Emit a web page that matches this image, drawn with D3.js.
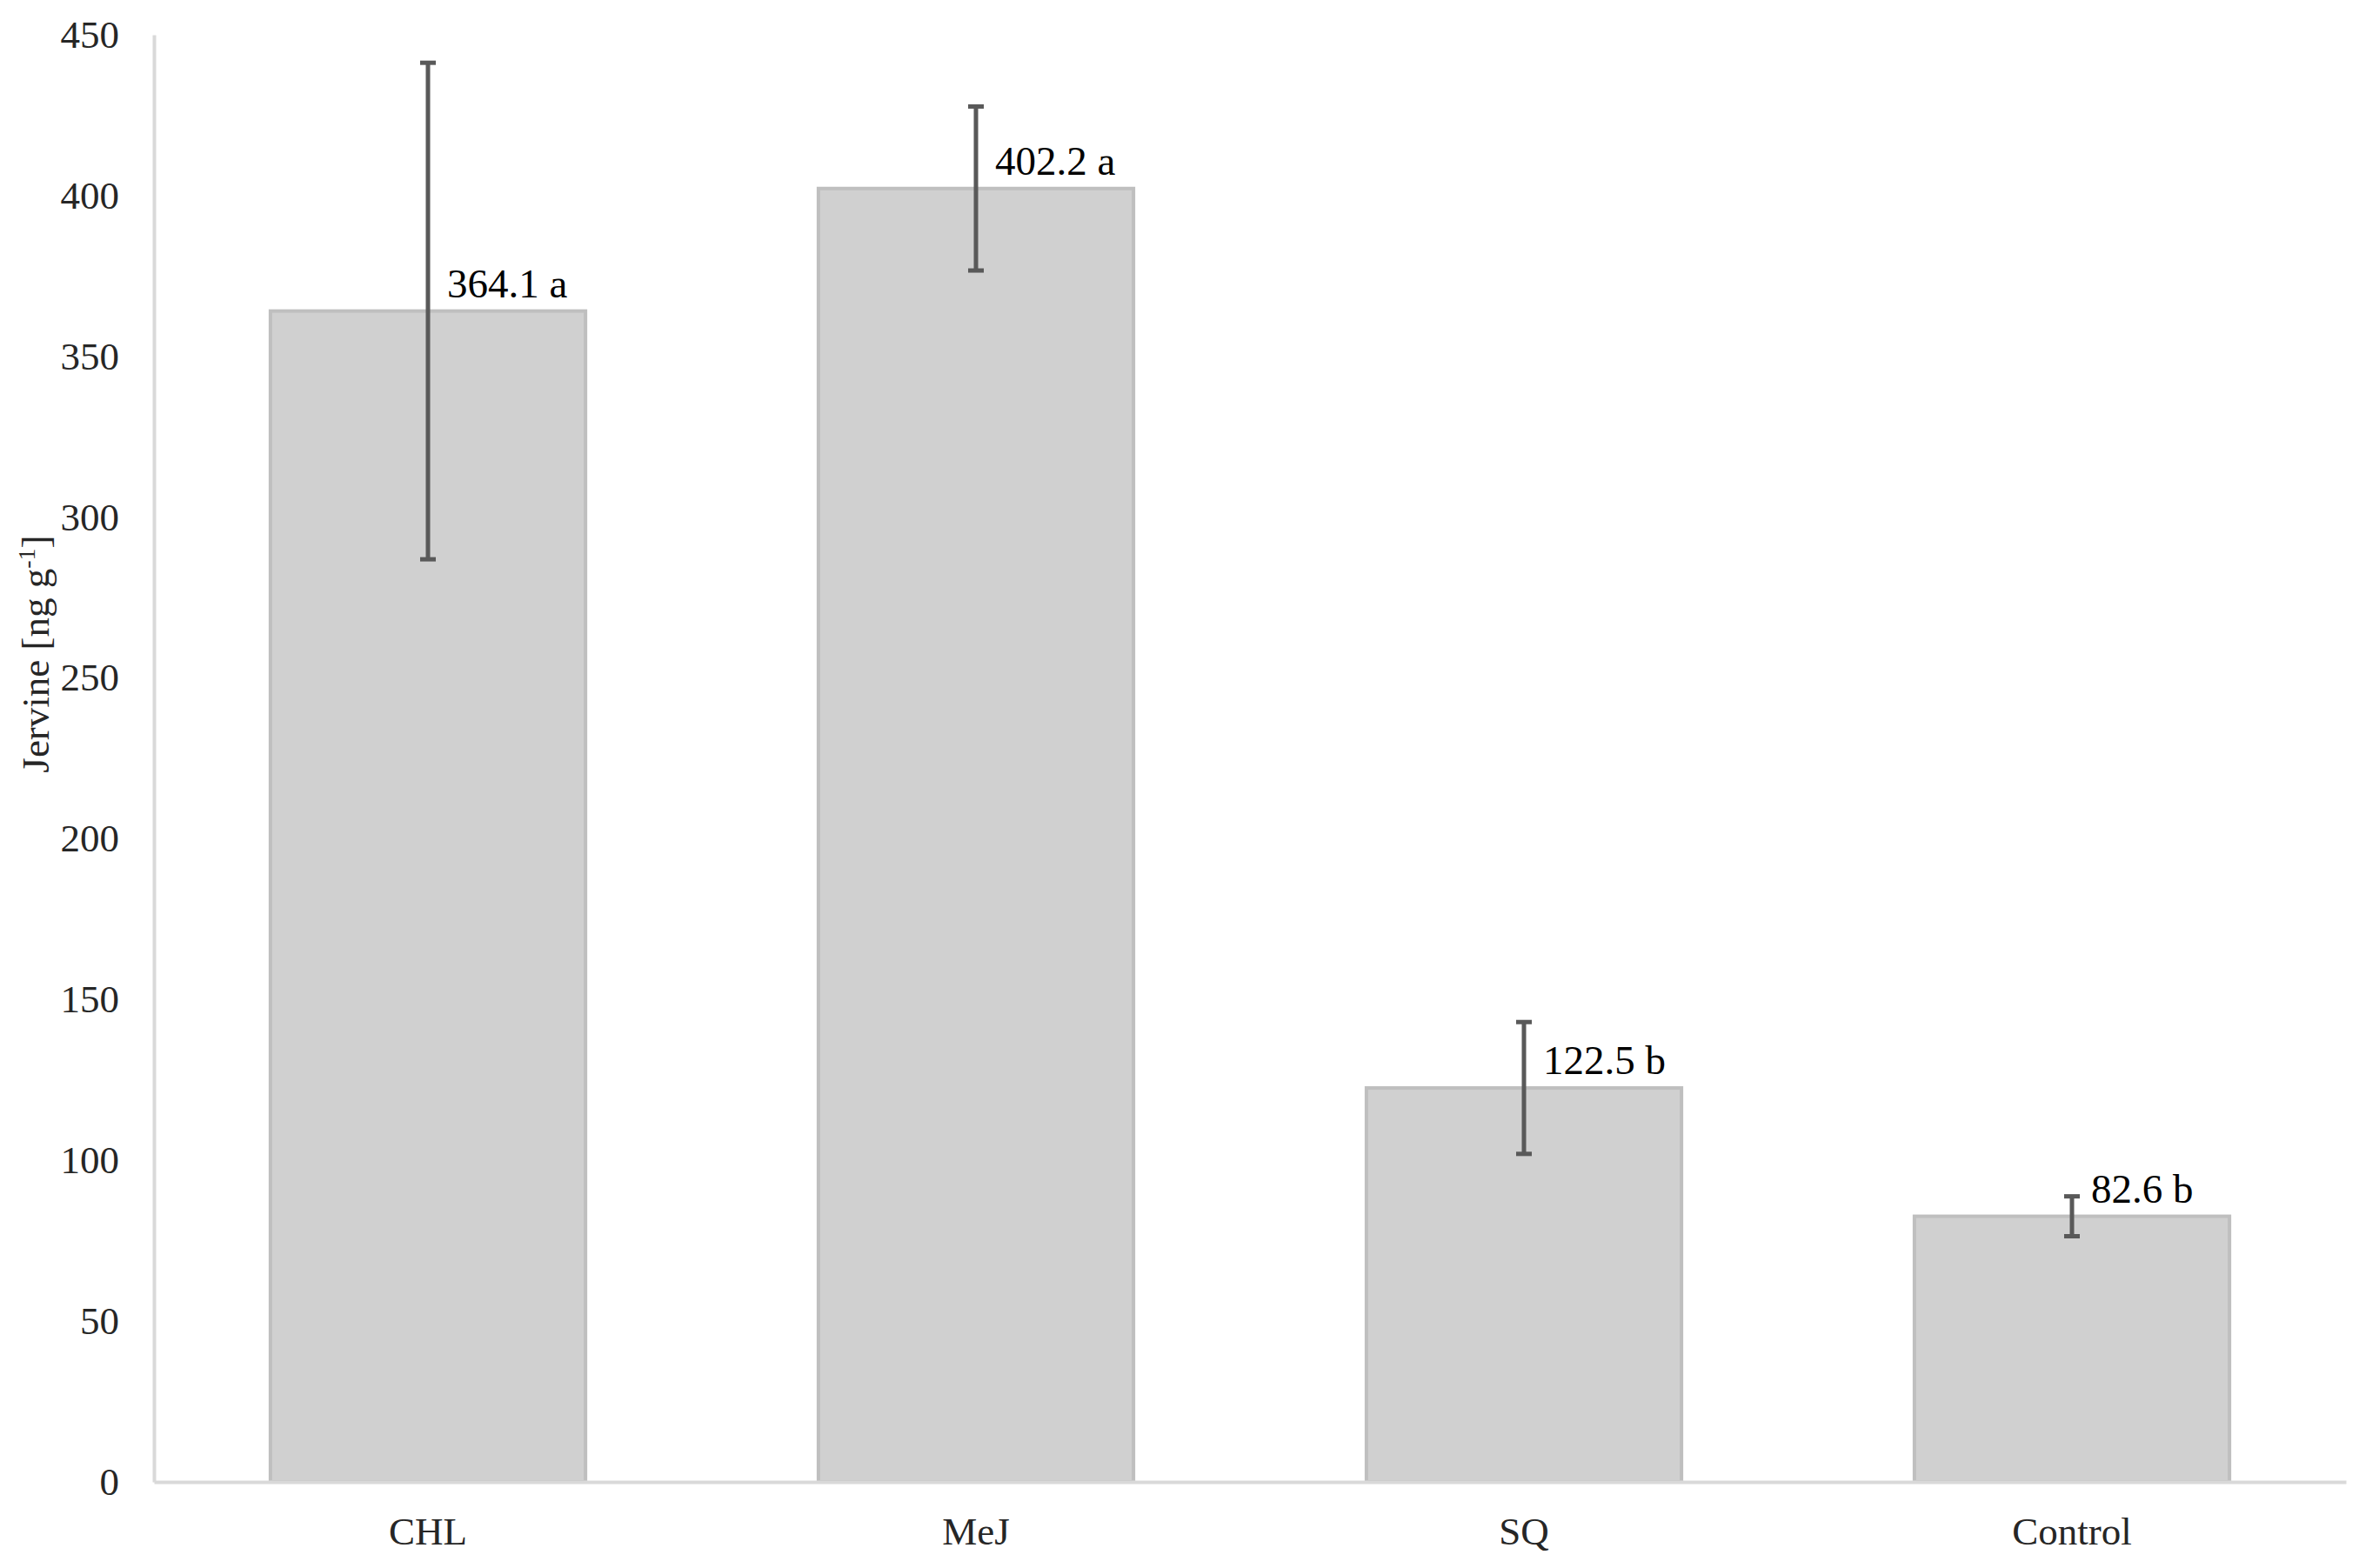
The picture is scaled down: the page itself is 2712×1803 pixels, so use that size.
<!DOCTYPE html>
<html>
<head>
<meta charset="utf-8">
<script src="https://cdn.jsdelivr.net/npm/d3@7"></script>
<style>
  html, body { margin: 0; padding: 0; background: #fff; }
</style>
</head>
<body>
<svg id="chart"></svg>
<script>
// Data
const categories = ["CHL", "MeJ", "SQ", "Control"];
const values = [364.1, 402.2, 122.5, 82.6];
const errors = [77.2, 25.5, 20.5, 6.2];
const letters = ["a", "a", "b", "b"];
const yTicks = [0, 50, 100, 150, 200, 250, 300, 350, 400, 450];

const width = 2712;
const height = 1803;
const margin = { top: 40, right: 15, bottom: 99, left: 177 };
const serif = '"Liberation Serif", "Times New Roman", serif';

const svg = d3.select('#chart')
  .attr('width', width)
  .attr('height', height)
  .attr('font-family', serif);

const x = d3.scaleBand()
  .domain(categories)
  .range([margin.left, width - margin.right])
  .paddingInner(0.425)
  .paddingOuter(0.2125);

const y = d3.scaleLinear()
  .domain([0, 450])
  .range([height - margin.bottom, margin.top]);

const data = categories.map((c, i) => ({ cat: c, value: values[i], err: errors[i], letter: letters[i] }));

// Bars
svg.append('g')
  .selectAll('rect')
  .data(data)
  .enter().append('rect')
  .attr('x', d => x(d.cat))
  .attr('y', d => y(d.value))
  .attr('width', x.bandwidth())
  .attr('height', d => y(0) - y(d.value))
  .attr('fill', '#d0d0d0')
  .attr('stroke', '#bfbfbf')
  .attr('stroke-width', 4);

// Y axis
svg.append('g')
  .attr('transform', `translate(${margin.left},0)`)
  .call(d3.axisLeft(y).tickValues(yTicks).tickSize(0).tickPadding(40))
  .call(g => g.select('.domain').attr('stroke', '#d9d9d9').attr('stroke-width', 4))
  .call(g => g.selectAll('.tick text')
    .attr('fill', '#262626')
    .attr('font-size', 45)
    .attr('font-family', serif));

// X axis
svg.append('g')
  .attr('transform', `translate(0,${y(0)})`)
  .call(d3.axisBottom(x).tickSize(0).tickPadding(40))
  .call(g => g.select('.domain').attr('stroke', '#d9d9d9').attr('stroke-width', 4))
  .call(g => g.selectAll('.tick text')
    .attr('fill', '#262626')
    .attr('font-size', 45)
    .attr('font-family', serif));

// Error bars
const eb = svg.append('g')
  .attr('stroke', '#595959')
  .attr('stroke-width', 5);

data.forEach(d => {
  const cx = x(d.cat) + x.bandwidth() / 2;
  eb.append('line')
    .attr('x1', cx).attr('x2', cx)
    .attr('y1', y(d.value + d.err)).attr('y2', y(d.value - d.err));
  [d.value + d.err, d.value - d.err].forEach(v => {
    eb.append('line')
      .attr('x1', cx - 9).attr('x2', cx + 9)
      .attr('y1', y(v)).attr('y2', y(v));
  });
});

// Value labels
svg.append('g')
  .selectAll('text')
  .data(data)
  .enter().append('text')
  .attr('x', d => x(d.cat) + x.bandwidth() / 2 + 22)
  .attr('y', d => y(d.value) - 16)
  .attr('font-size', 47)
  .attr('font-family', serif)
  .attr('fill', '#000')
  .text(d => `${d.value.toFixed(1)} ${d.letter}`);

// Y axis title
const title = svg.append('text')
  .attr('transform', `translate(56,${752}) rotate(-90)`)
  .attr('text-anchor', 'middle')
  .attr('font-size', 45)
  .attr('font-family', serif)
  .attr('fill', '#262626');
title.append('tspan').text('Jervine [ng g');
title.append('tspan').attr('dy', -16).attr('font-size', 28).text('-1');
title.append('tspan').attr('dy', 16).text(']');
</script>
</body>
</html>
